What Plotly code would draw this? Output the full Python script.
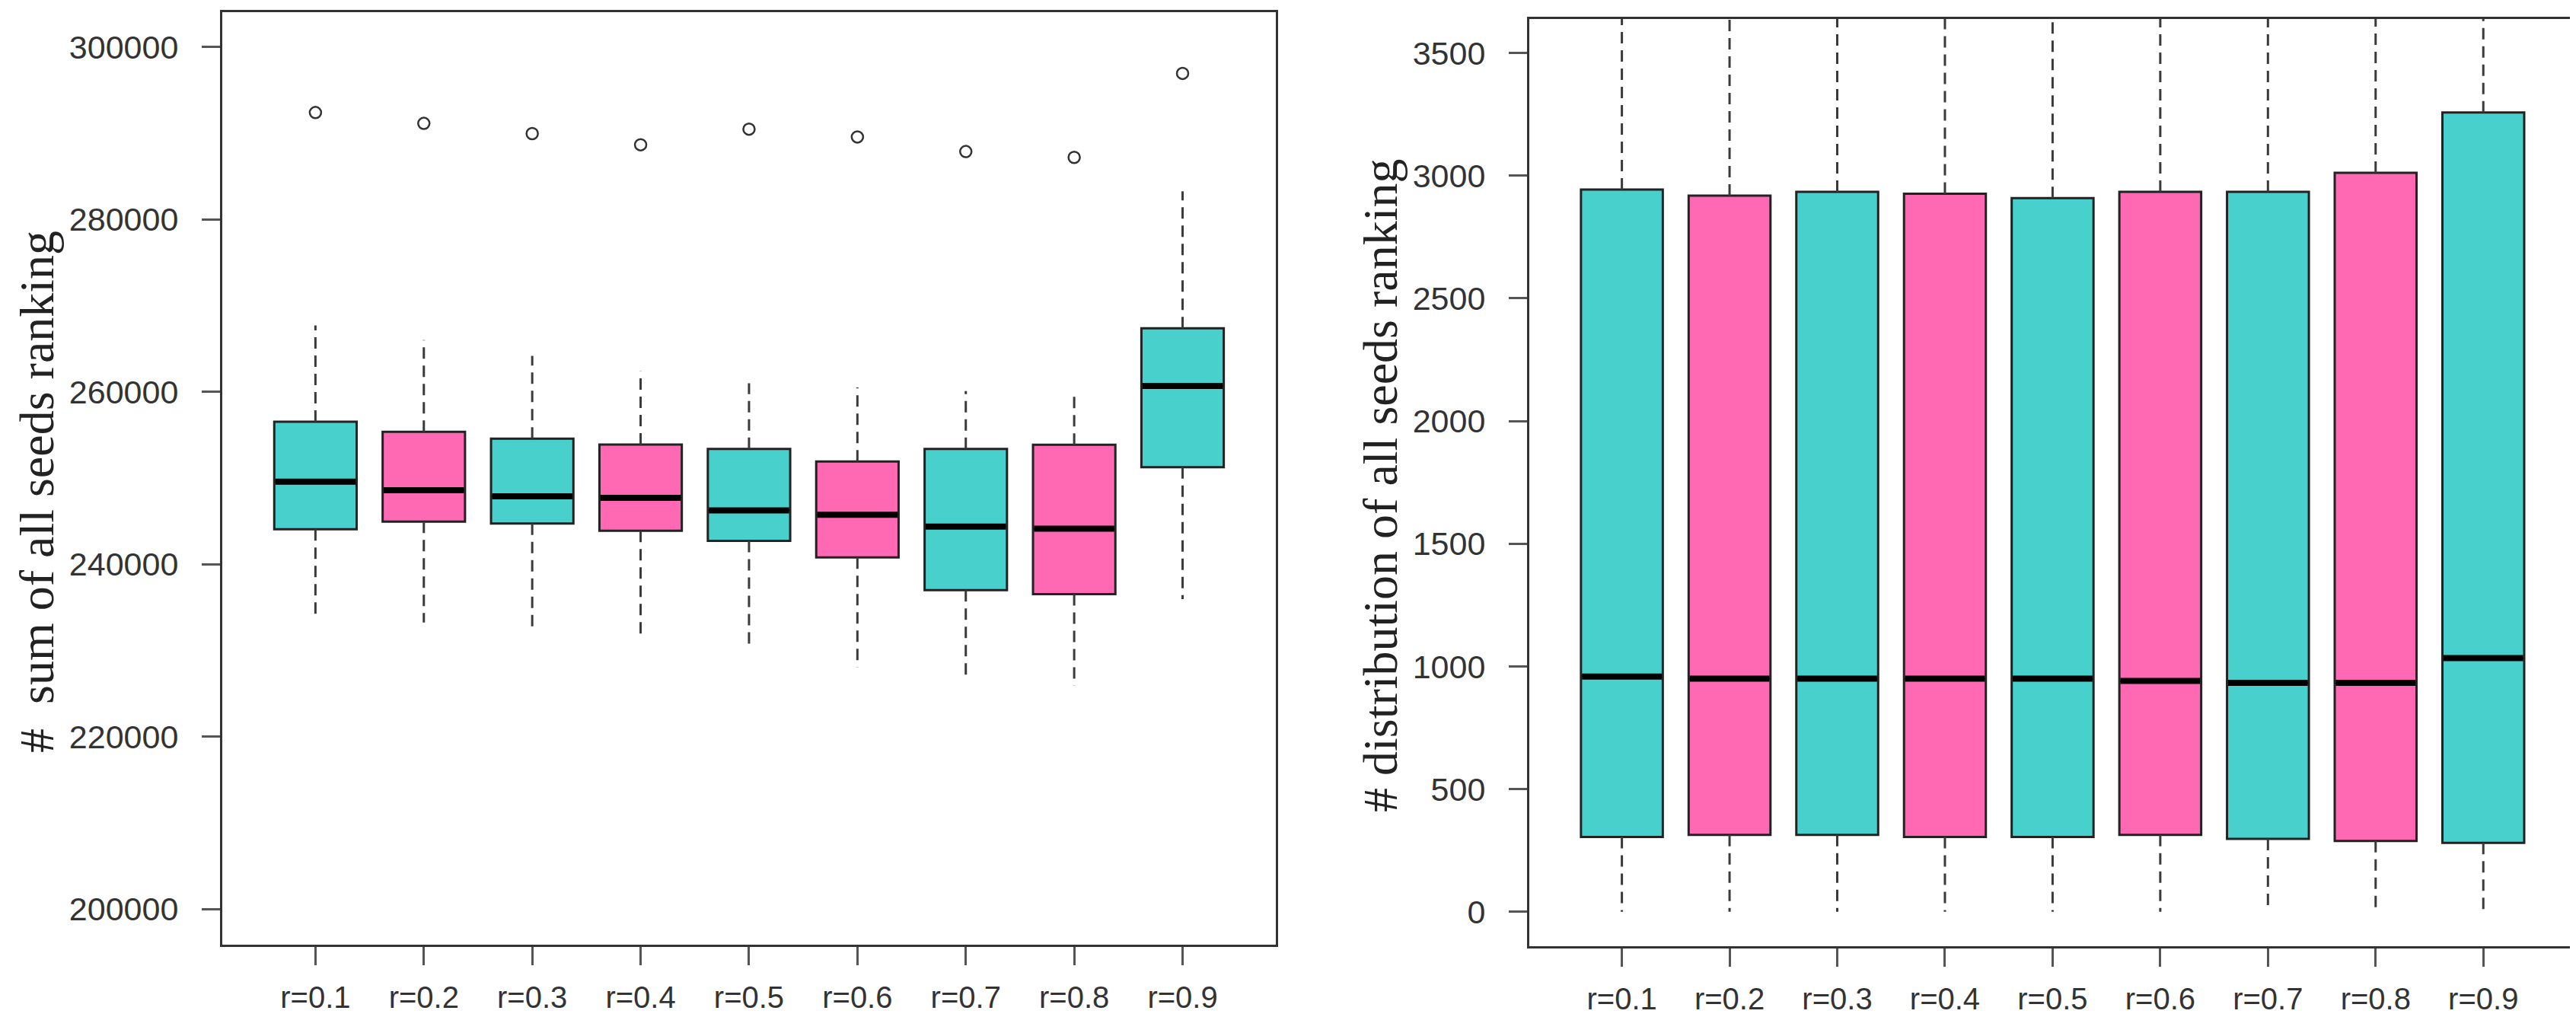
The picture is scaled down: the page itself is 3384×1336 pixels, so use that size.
import plotly.graph_objects as go

# categories
labels = ["r=0.1", "r=0.2", "r=0.3", "r=0.4", "r=0.5", "r=0.6", "r=0.7", "r=0.8", "r=0.9"]
box_colors = ["mediumturquoise", "hotpink", "mediumturquoise", "hotpink", "mediumturquoise",
              "hotpink", "mediumturquoise", "hotpink", "mediumturquoise"]

# left panel: sum of all seeds ranking
sum_low = [234200, 233230, 232080, 231500, 230150, 228030, 227060, 225900, 235950]
sum_q1 = [244050, 244940, 244710, 243860, 242700, 240770, 236990, 236520, 251240]
sum_med = [249560, 248580, 247870, 247690, 246240, 245730, 244350, 244110, 260660]
sum_q3 = [256530, 255350, 254560, 253880, 253370, 251910, 253370, 253840, 267360]
sum_high = [267700, 266000, 264150, 262360, 260980, 260500, 260070, 259800, 283250]
sum_out = [292390, 291130, 289950, 288650, 290460, 289555, 287860, 287190, 296930]

# right panel: distribution of all seeds ranking
dist_low = [0, 0, 0, 0, 0, 0, 0, 0, 1]
dist_q1 = [305, 314, 314, 305, 305, 314, 297, 289, 281]
dist_med = [959, 950, 950, 950, 950, 941, 933, 933, 1034]
dist_q3 = [2943, 2918, 2934, 2926, 2908, 2934, 2934, 3011, 3257]
dist_high = [3700, 3700, 3700, 3700, 3700, 3700, 3700, 3700, 3700]

BOX_W = 0.76
xs = list(range(1, len(labels) + 1))

fig = go.Figure()


def add_panel(xa, ya, low, q1, med, q3, high, outliers=None):
    # dashed whiskers
    wx, wy = [], []
    for x, lo, a, b, hi in zip(xs, low, q1, q3, high):
        wx += [x, x, None, x, x, None]
        wy += [b, hi, None, a, lo, None]
    fig.add_trace(go.Scatter(x=wx, y=wy, mode="lines", xaxis=xa, yaxis=ya,
                             line=dict(color="#3a3a3a", width=3, dash="15px,9px"),
                             hoverinfo="skip", showlegend=False))
    # box bodies
    for x, a, m, b, c in zip(xs, q1, med, q3, box_colors):
        fig.add_trace(go.Box(x=[x], q1=[a], median=[m], q3=[b], lowerfence=[a], upperfence=[b],
                             width=BOX_W, fillcolor=c, line=dict(color="#222", width=3),
                             whiskerwidth=0, boxpoints=False, xaxis=xa, yaxis=ya,
                             showlegend=False))
    # thick medians
    mx, my = [], []
    for x, m in zip(xs, med):
        mx += [x - BOX_W / 2 + 0.01, x + BOX_W / 2 - 0.01, None]
        my += [m, m, None]
    fig.add_trace(go.Scatter(x=mx, y=my, mode="lines", xaxis=xa, yaxis=ya,
                             line=dict(color="black", width=8),
                             hoverinfo="skip", showlegend=False))
    if outliers is not None:
        fig.add_trace(go.Scatter(x=xs, y=outliers, mode="markers", xaxis=xa, yaxis=ya,
                                 marker=dict(symbol="circle-open", size=15, color="#333",
                                             line=dict(width=2.5, color="#333")),
                                 showlegend=False))


add_panel("x", "y", sum_low, sum_q1, sum_med, sum_q3, sum_high, sum_out)
add_panel("x2", "y2", dist_low, dist_q1, dist_med, dist_q3, dist_high)

axis_common = dict(showline=True, mirror=True, linecolor="#333", linewidth=3,
                   showgrid=False, zeroline=False, ticks="outside", ticklen=24,
                   tickwidth=3, tickcolor="#555", automargin=False)
tickfont_x = dict(family="Liberation Sans, Arial", size=40, color="#333")
tickfont_y = dict(family="Liberation Sans, Arial", size=43, color="#333")

fig.update_layout(
    width=3384, height=1336, autosize=False,
    margin=dict(l=0, r=0, t=0, b=0),
    paper_bgcolor="white", plot_bgcolor="white",
    xaxis=dict(domain=[0.0839, 0.4929], range=[0.14, 9.86], tickvals=xs, ticktext=labels,
               tickfont=tickfont_x, ticklabelstandoff=8, anchor="y", **axis_common),
    yaxis=dict(domain=[0.0771, 0.9940], range=[195850, 304030],
               tickvals=[200000, 220000, 240000, 260000, 280000, 300000], tickformat="d",
               tickfont=tickfont_y, ticklabelstandoff=22, anchor="x", **axis_common),
    xaxis2=dict(domain=[0.5913, 0.9976], range=[0.14, 9.86], tickvals=xs, ticktext=labels,
                tickfont=tickfont_x, ticklabelstandoff=8, anchor="y2", **axis_common),
    yaxis2=dict(domain=[0.0756, 0.9873], range=[-140, 3638],
                tickvals=[0, 500, 1000, 1500, 2000, 2500, 3000, 3500], tickformat="d",
                tickfont=tickfont_y, ticklabelstandoff=22, anchor="x2", **axis_common),
    annotations=[
        dict(text="# \u00a0sum of all seeds ranking", xref="paper", yref="paper",
             x=40 / 3384, y=1 - 638 / 1336, textangle=-90, showarrow=False,
             xanchor="center", yanchor="middle",
             font=dict(family="Liberation Serif, Times New Roman", size=64, color="#222")),
        dict(text="# distribution of all seeds ranking", xref="paper", yref="paper",
             x=1805 / 3384, y=1 - 630 / 1336, textangle=-90, showarrow=False,
             xanchor="center", yanchor="middle",
             font=dict(family="Liberation Serif, Times New Roman", size=64, color="#222")),
    ],
)

fig.write_html("out.html")
